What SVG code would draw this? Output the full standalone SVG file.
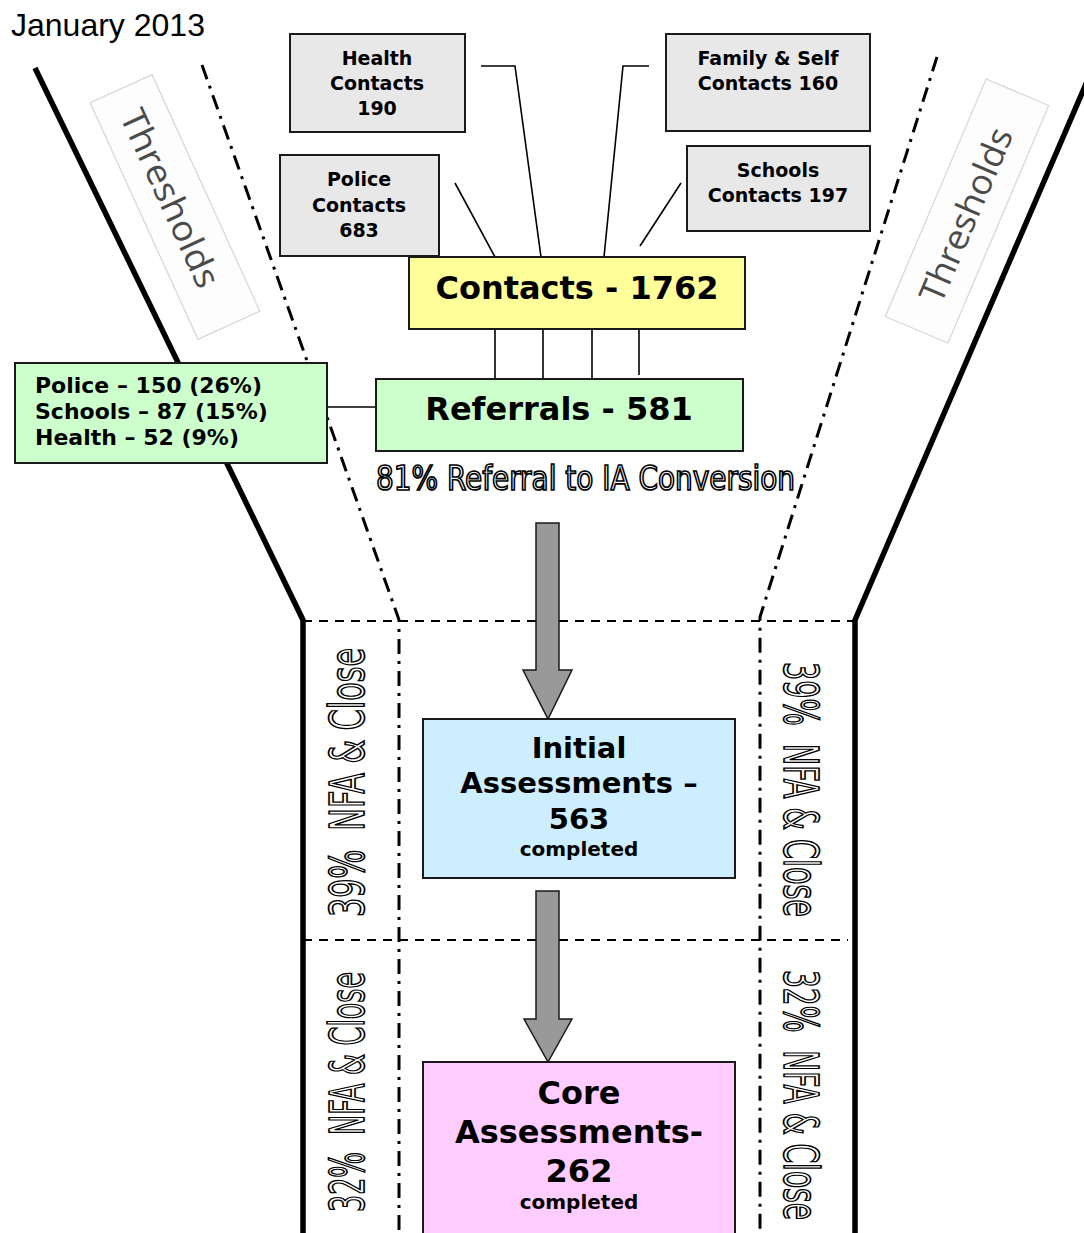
<svg xmlns="http://www.w3.org/2000/svg" width="1084" height="1233" viewBox="0 0 1084 1233">
<style>
.thick{fill:none;stroke:#000;stroke-width:5.5;stroke-linejoin:miter}
.dd{fill:none;stroke:#000;stroke-width:3;stroke-dasharray:15 7 3 7}
.dash{fill:none;stroke:#000;stroke-width:2;stroke-dasharray:9 7}
.conn{fill:none;stroke:#000;stroke-width:1.6}
.box{stroke:#1a1a1a;stroke-width:2}
.grey{fill:#e8e8e8}
.b{font-family:"DejaVu Sans",Verdana,sans-serif;font-weight:bold;fill:#000}
.c{text-anchor:middle}
.outline{font-family:"DejaVu Sans Condensed","DejaVu Sans",sans-serif;fill:#fff;stroke:#000;stroke-width:1.7}
.thr{fill:#fdfdfd;stroke:#d6d6d6;stroke-width:1.2}
.thrt{font-family:"Open Sans","Noto Sans",sans-serif;font-size:35px;fill:#4a4a4a;text-anchor:middle}
.arrow{fill:#999;stroke:#1a1a1a;stroke-width:1.5}
</style>

<text x="11" y="36" style="font-family:'Liberation Sans',Arial,sans-serif;font-size:32px;fill:#000">January 2013</text>

<g id="funnel">
<polyline class="thick" points="35,68 303,620 303,1240"/>
<polyline class="thick" points="1092,70 855,620 855,1240"/>
<polyline class="dd" points="202,65 398,617 399,620 399,1233"/>
<polyline class="dd" points="937,57 760,617 760,620 760,1233"/>
<line class="dash" x1="303" y1="621" x2="855" y2="621"/>
<line class="dash" x1="303" y1="940" x2="848" y2="940"/>
</g>

<g id="thresholds-left" transform="translate(175,207) rotate(65.5)">
<rect class="thr" x="-130" y="-34" width="260" height="68"/>
<text class="thrt" x="-10" y="13" textLength="192" lengthAdjust="spacingAndGlyphs">Thresholds</text>
</g>
<g id="thresholds-right" transform="translate(967,211) rotate(-67)">
<rect class="thr" x="-129" y="-34" width="258" height="68"/>
<text class="thrt" x="-4" y="13" textLength="186" lengthAdjust="spacingAndGlyphs">Thresholds</text>
</g>

<g id="connectors">
<polyline class="conn" points="481,66 515,66 541,257"/>
<line class="conn" x1="455" y1="183" x2="495" y2="257"/>
<polyline class="conn" points="649,66 623,66 604,257"/>
<line class="conn" x1="681" y1="183" x2="640" y2="246"/>
<line class="conn" x1="495" y1="330" x2="495" y2="378"/>
<line class="conn" x1="543" y1="330" x2="543" y2="378"/>
<line class="conn" x1="592" y1="330" x2="592" y2="378"/>
<line class="conn" x1="639" y1="330" x2="639" y2="375"/>
<line class="conn" x1="327" y1="407" x2="376" y2="407"/>
<polygon class="arrow" points="536,523 559,523 559,670 572,670 548,719 523,670 536,670"/>
<polygon class="arrow" points="536,891 559,891 559,1019 572,1019 548,1062 524,1019 536,1019"/>
</g>

<g id="health">
<rect class="box grey" x="290" y="34" width="175" height="98"/>
<text class="b c" x="377" y="65" font-size="19">Health</text>
<text class="b c" x="377" y="90" font-size="19">Contacts</text>
<text class="b c" x="377" y="115" font-size="19">190</text>
</g>

<g id="police">
<rect class="box grey" x="280" y="155" width="159" height="101"/>
<text class="b c" x="359" y="186" font-size="19">Police</text>
<text class="b c" x="359" y="212" font-size="19">Contacts</text>
<text class="b c" x="359" y="237" font-size="19">683</text>
</g>

<g id="family">
<rect class="box grey" x="666" y="34" width="204" height="97"/>
<text class="b c" x="768" y="65" font-size="19">Family &amp; Self</text>
<text class="b c" x="768" y="90" font-size="19">Contacts 160</text>
</g>

<g id="schools">
<rect class="box grey" x="687" y="146" width="183" height="85"/>
<text class="b c" x="778" y="177" font-size="19">Schools</text>
<text class="b c" x="778" y="202" font-size="19">Contacts 197</text>
</g>

<g id="contacts">
<rect class="box" fill="#ffff99" x="409" y="257" width="336" height="72"/>
<text class="b c" x="577" y="299" font-size="32">Contacts - 1762</text>
</g>

<g id="referrals">
<rect class="box" fill="#ccffcc" x="376" y="379" width="367" height="72"/>
<text class="b c" x="559" y="420" font-size="32">Referrals - 581</text>
</g>

<g id="referral-breakdown">
<rect class="box" fill="#ccffcc" x="15" y="363" width="312" height="100"/>
<text class="b" x="35" y="393" font-size="22">Police – 150 (26%)</text>
<text class="b" x="35" y="419" font-size="22">Schools – 87 (15%)</text>
<text class="b" x="35" y="445" font-size="22">Health – 52 (9%)</text>
</g>

<text class="outline" x="376" y="490" font-size="34" textLength="419" lengthAdjust="spacingAndGlyphs">81% Referral to IA Conversion</text>

<g id="initial-assessments">
<rect class="box" fill="#cceeff" x="423" y="719" width="312" height="159"/>
<text class="b c" x="579" y="758" font-size="29">Initial</text>
<text class="b c" x="579" y="793" font-size="29">Assessments –</text>
<text class="b c" x="579" y="829" font-size="29">563</text>
<text class="b c" x="579" y="856" font-size="20">completed</text>
</g>

<g id="core-assessments">
<rect class="box" fill="#ffccff" x="423" y="1062" width="312" height="180"/>
<text class="b c" x="579" y="1104" font-size="32">Core</text>
<text class="b c" x="579" y="1143" font-size="32">Assessments-</text>
<text class="b c" x="579" y="1182" font-size="32">262</text>
<text class="b c" x="579" y="1209" font-size="20">completed</text>
</g>

<g id="nfa-labels">
<text class="outline" xml:space="preserve" font-size="48" transform="translate(364,917) rotate(-90)" x="0" y="0" textLength="269" lengthAdjust="spacingAndGlyphs">39%  NFA &amp; Close</text>
<text class="outline" xml:space="preserve" font-size="48" transform="translate(364,1212) rotate(-90)" x="0" y="0" textLength="240" lengthAdjust="spacingAndGlyphs">32%  NFA &amp; Close</text>
<text class="outline" xml:space="preserve" font-size="48" transform="translate(784,662) rotate(90)" x="0" y="0" textLength="255" lengthAdjust="spacingAndGlyphs">39%  NFA &amp; Close</text>
<text class="outline" xml:space="preserve" font-size="48" transform="translate(784,970) rotate(90)" x="0" y="0" textLength="250" lengthAdjust="spacingAndGlyphs">32%  NFA &amp; Close</text>
</g>
</svg>
